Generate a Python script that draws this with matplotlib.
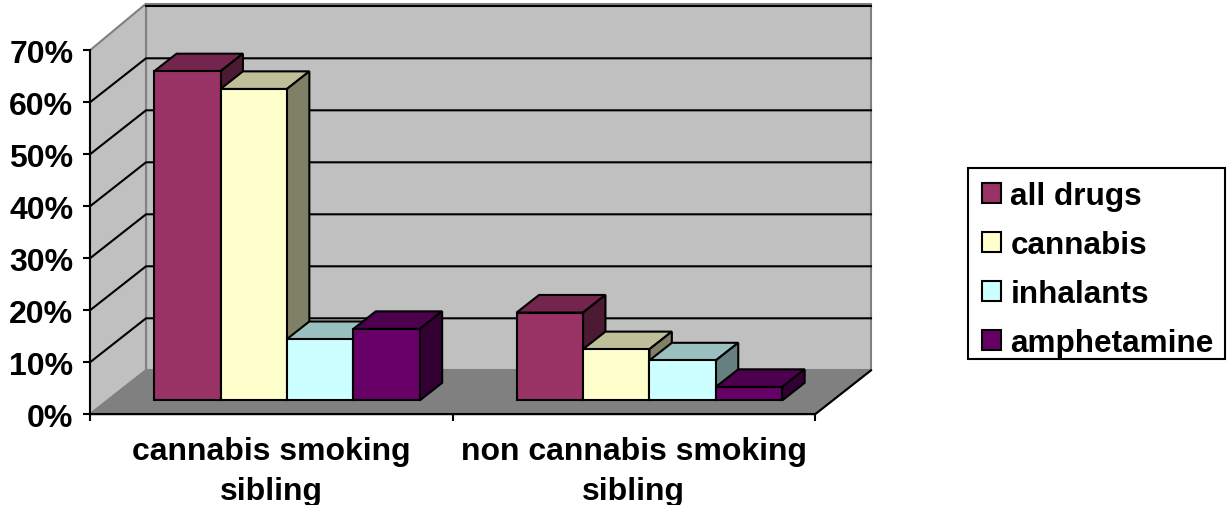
import matplotlib
matplotlib.use("Agg")
import matplotlib.pyplot as plt
from matplotlib.patches import Patch, Rectangle
from matplotlib.colors import to_rgb

plt.rcParams['font.family'] = ['Liberation Sans', 'DejaVu Sans']
plt.rcParams['font.weight'] = 'bold'

categories = ["cannabis smoking\nsibling", "non cannabis smoking\nsibling"]
series = ["all drugs", "cannabis", "inhalants", "amphetamine"]
all_drugs = [63.3, 16.9]
cannabis = [59.9, 9.85]
inhalants = [11.8, 7.7]
amphetamine = [13.75, 2.6]
values = [all_drugs, cannabis, inhalants, amphetamine]
colors = ["#993366", "#FFFFCC", "#CCFFFF", "#660066"]
ytick_vals = [0, 10, 20, 30, 40, 50, 60, 70]

# oblique projection, sizes in data units (1 category = 362.5 px, 10% = 52 px)
depth_x = 56 / 362.5
depth_y = 44 / 5.2
bar_w = 66.4 / 362.5
group_start = 46.5 / 362.5
bar_d0 = 0.315
bar_d1 = 0.715
wall_top = 70.5
lw = 1.5


def proj(x, y, d):
    return x + d * depth_x, y + d * depth_y


def shade(c, f):
    return tuple(v * f for v in to_rgb(c))


def face(ax, pts, color, ec="k", z=2, lw_=lw):
    xs = [proj(*p)[0] for p in pts]
    ys = [proj(*p)[1] for p in pts]
    ax.fill(xs, ys, facecolor=color, edgecolor=ec, linewidth=lw_, zorder=z,
            clip_on=False, joinstyle="miter")


fig = plt.figure(figsize=(12.32, 5.06), dpi=100)
ax = fig.add_axes([90 / 1232, (506 - 415.3) / 506, 725 / 1232, 364 / 506])
ax.set_xlim(0, 2)
ax.set_ylim(0, 70)
ax.patch.set_visible(False)

# walls and floor
face(ax, [(0, 0, 1), (2, 0, 1), (2, wall_top, 1), (0, wall_top, 1)], "#C0C0C0", ec="#808080", z=1)
face(ax, [(0, 0, 0), (0, 0, 1), (0, wall_top, 1), (0, 70, 0)], "#C0C0C0", ec="#808080", z=1)
face(ax, [(0, 0, 0), (2, 0, 0), (2, 0, 1), (0, 0, 1)], "#808080", ec="#808080", z=1)

# gridlines on both walls, the top one only on the back wall
for v in ytick_vals[1:]:
    if v < 70:
        pts = [proj(0, v, 0), proj(0, v, 1), proj(2, v, 1)]
    else:
        pts = [proj(0, v, 1), proj(2, v, 1)]
    xs, ys = zip(*pts)
    ax.plot(xs, ys, color="k", lw=lw, zorder=1.5, clip_on=False)
xs, ys = zip(proj(2, 0, 0), proj(2, 0, 1))
ax.plot(xs, ys, color="k", lw=lw, zorder=1.5, clip_on=False)

# bars, back faces first, left to right
z = 2
for g in range(len(categories)):
    for s in range(len(series)):
        x0 = g + group_start + s * bar_w
        x1 = x0 + bar_w
        v = values[s][g]
        c = colors[s]
        face(ax, [(x0, v, bar_d0), (x1, v, bar_d0), (x1, v, bar_d1), (x0, v, bar_d1)],
             shade(c, 0.75), z=z)
        face(ax, [(x1, 0, bar_d0), (x1, 0, bar_d1), (x1, v, bar_d1), (x1, v, bar_d0)],
             shade(c, 0.5), z=z)
        face(ax, [(x0, 0, bar_d0), (x1, 0, bar_d0), (x1, v, bar_d0), (x0, v, bar_d0)],
             c, z=z + 0.1)
        z += 1

for side in ["top", "right"]:
    ax.spines[side].set_visible(False)
for side in ["left", "bottom"]:
    ax.spines[side].set_linewidth(lw)
    ax.spines[side].set_zorder(50)

ax.set_yticks(ytick_vals)
ax.set_yticklabels([f"{v}%" for v in ytick_vals], fontsize=23, fontweight="bold")
ax.set_xticks([0, 1, 2])
ax.set_xticklabels([])
ax.set_xticks([0.5, 1.5], minor=True)
ax.set_xticklabels(categories, minor=True, fontsize=23, fontweight="bold", linespacing=1.45)
ax.tick_params(axis="x", which="minor", length=0, pad=15.5)
ax.tick_params(axis="x", which="major", length=5, width=lw)
ax.tick_params(axis="y", length=5, width=lw, pad=7)

# legend box drawn on its own so the rows can sit off centre like the original
fig.add_artist(Rectangle((968 / 1232, 1 - 360 / 506), 257 / 1232, 191 / 506,
                         transform=fig.transFigure, facecolor="w", edgecolor="k", linewidth=lw))
handles = [Patch(facecolor=c, edgecolor="k", linewidth=1.5) for c in colors]
leg = fig.legend(handles, series, loc="upper left", bbox_to_anchor=(982 / 1232, 1 - 182.2 / 506),
                 prop={"size": 22.7, "weight": "bold"}, frameon=False,
                 handlelength=0.6, handleheight=0.6,
                 handletextpad=0.3, labelspacing=0.6, borderpad=0, borderaxespad=0)

fig.savefig("out.png", dpi=100)
